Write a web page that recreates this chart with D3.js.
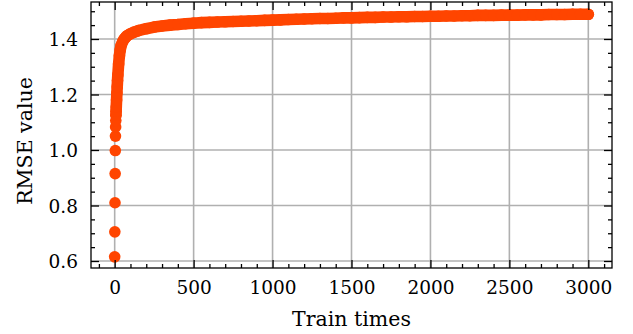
<!DOCTYPE html>
<html>
<head>
<meta charset="utf-8">
<script src="https://cdn.jsdelivr.net/npm/d3@7"></script>
<style>
  body { margin: 0; background: #fff; }
</style>
</head>
<body>
<svg id="chart" width="633" height="334"></svg>
<script>
// train times (x) and RMSE values (y)
const trainTimes = [0, 1, 2, 3, 4, 5, 6, 7, 8, 9, 10, 12, 14, 16, 18, 20, 25, 30, 35, 40, 50, 60, 70, 80,
  100, 120, 150, 200, 250, 300, 350, 400, 450, 500, 550, 600, 650, 700, 750, 800, 850, 900, 950,
  1000, 1050, 1100, 1150, 1200, 1250, 1300, 1350, 1400, 1450, 1500, 1550, 1600, 1650, 1700, 1750,
  1800, 1850, 1900, 1950, 2000, 2050, 2100, 2150, 2200, 2250, 2300, 2350, 2400, 2450, 2500, 2550,
  2600, 2650, 2700, 2750, 2800, 2850, 2900, 2950, 3000];
const rmse = [0.615, 0.705, 0.81, 0.915, 0.998, 1.05, 1.083, 1.106, 1.125, 1.14, 1.155, 1.18, 1.205, 1.228,
  1.25, 1.27, 1.31, 1.34, 1.36, 1.375, 1.39, 1.40, 1.407, 1.412,
  1.419, 1.424, 1.43, 1.437, 1.443, 1.447, 1.450, 1.452, 1.455, 1.457, 1.459, 1.460, 1.461, 1.462,
  1.463, 1.464, 1.465, 1.466, 1.467,
  1.468, 1.469, 1.470, 1.471, 1.472, 1.473, 1.474, 1.474, 1.475, 1.476, 1.476, 1.477, 1.478, 1.478,
  1.479, 1.479, 1.480, 1.480, 1.481, 1.481, 1.482, 1.482, 1.483, 1.483, 1.484, 1.484, 1.485, 1.485,
  1.485, 1.486, 1.486, 1.486, 1.487, 1.487, 1.487, 1.488, 1.488, 1.488, 1.489, 1.489, 1.489];

const xTicks = [0, 500, 1000, 1500, 2000, 2500, 3000];
const yTicks = [0.6, 0.8, 1.0, 1.2, 1.4];
const xLabel = "Train times";
const yLabel = "RMSE value";

const data = trainTimes.map((t, i) => ({t: t, v: rmse[i]}));

const pLeft = 91, pRight = 612, pTop = 2, pBottom = 268;
const dotColor = "#ff4500", r = 5.8;
const serif = "'DejaVu Serif', serif";

const svg = d3.select("#chart");
const x = d3.scaleLinear().domain([-150, 3150]).range([pLeft, pRight]);
const y = d3.scaleLinear().domain([0.5748, 1.5333]).range([pBottom, pTop]);

const xMinor = d3.range(-100, 3150, 100).filter(d => d % 500 !== 0);
const yMinor = d3.range(0.6, 1.55, 0.05).map(d => +d.toFixed(2)).filter(d => Math.round(d * 100) % 20 !== 0);

// grid
let grid = svg.append("g");
grid.selectAll(".gx").data(xTicks).join("line")
  .attr("class", "gx")
  .attr("x1", d => x(d)).attr("x2", d => x(d)).attr("y1", pTop).attr("y2", pBottom)
  .attr("stroke", "#b0b0b0").attr("stroke-width", 1.6);
grid.selectAll(".gy").data(yTicks).join("line")
  .attr("class", "gy")
  .attr("y1", d => y(d)).attr("y2", d => y(d)).attr("x1", pLeft).attr("x2", pRight)
  .attr("stroke", "#b0b0b0").attr("stroke-width", 1.6);

// points: thick line under the dense part so the band is smooth, then dots
let plot = svg.append("g");
let line = d3.line().x(d => x(d.t)).y(d => y(d.v));
plot.append("path").attr("d", line(data.filter(d => d.t >= 8)))
  .attr("fill", "none").attr("stroke", dotColor).attr("stroke-width", 2 * r)
  .attr("stroke-linecap", "round").attr("stroke-linejoin", "round");
plot.selectAll("circle").data(data).join("circle")
  .attr("cx", d => x(d.t)).attr("cy", d => y(d.v)).attr("r", r)
  .attr("fill", dotColor);

// axes, ticks pointing inward on all four sides
function styleAxis(g){
  g.select(".domain").remove();
  g.attr("font-family", serif).attr("font-size", 18.5);
  g.selectAll(".tick line").attr("stroke", "#000").attr("stroke-width", 1.3);
  g.selectAll(".tick text").attr("fill", "#000");
}
let axB = svg.append("g").attr("transform", `translate(0,${pBottom})`)
  .call(d3.axisBottom(x).tickValues(xTicks).tickSize(-8).tickPadding(0).tickFormat(d3.format("d")));
styleAxis(axB);
axB.selectAll(".tick text").attr("y", 26.3).attr("dy", null);
svg.append("g").attr("transform", `translate(0,${pBottom})`)
  .call(d3.axisBottom(x).tickValues(xMinor).tickSize(-4).tickFormat("")).call(styleAxis);

let axT = svg.append("g").attr("transform", `translate(0,${pTop})`)
  .call(d3.axisTop(x).tickValues(xTicks).tickSize(-8).tickFormat(""));
styleAxis(axT);
svg.append("g").attr("transform", `translate(0,${pTop})`)
  .call(d3.axisTop(x).tickValues(xMinor).tickSize(-4).tickFormat("")).call(styleAxis);

let axL = svg.append("g").attr("transform", `translate(${pLeft},0)`)
  .call(d3.axisLeft(y).tickValues(yTicks).tickSize(-8).tickFormat(d3.format(".1f")));
styleAxis(axL);
axL.selectAll(".tick text").attr("x", -13).attr("dy", "0.36em");
svg.append("g").attr("transform", `translate(${pLeft},0)`)
  .call(d3.axisLeft(y).tickValues(yMinor).tickSize(-4).tickFormat("")).call(styleAxis);

let axR = svg.append("g").attr("transform", `translate(${pRight},0)`)
  .call(d3.axisRight(y).tickValues(yTicks).tickSize(-8).tickFormat(""));
styleAxis(axR);
svg.append("g").attr("transform", `translate(${pRight},0)`)
  .call(d3.axisRight(y).tickValues(yMinor).tickSize(-4).tickFormat("")).call(styleAxis);

// frame
svg.append("rect").attr("x", pLeft).attr("y", pTop).attr("width", pRight - pLeft).attr("height", pBottom - pTop)
  .attr("fill", "none").attr("stroke", "#000").attr("stroke-width", 1.3);

// axis labels
svg.append("text").attr("x", (pLeft + pRight) / 2).attr("y", 326)
  .attr("text-anchor", "middle").attr("font-family", serif).attr("font-size", 20.5)
  .text(xLabel);
svg.append("text").attr("transform", `translate(32,${(pTop + pBottom) / 2 + 6}) rotate(-90)`)
  .attr("text-anchor", "middle").attr("font-family", serif).attr("font-size", 20.5)
  .text(yLabel);
</script>
</body>
</html>
